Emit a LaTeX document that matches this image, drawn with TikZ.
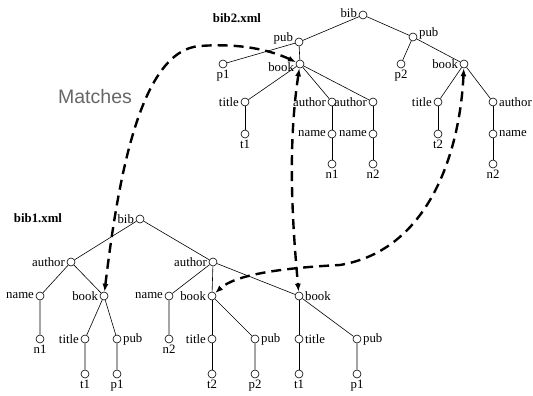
\documentclass[tikz,border=0pt]{standalone}
\usepackage{fontspec}
\setmainfont{Liberation Serif}
\newfontfamily\matchfont{Liberation Sans}
\usetikzlibrary{arrows.meta}

\tikzset{
  elem/.style={circle,draw,fill=white,minimum size=8pt,inner sep=0pt},
  every label/.style={inner sep=1.5pt,font=\fontsize{12.8}{14}\selectfont},
  label distance=0pt,
  match/.style={line width=2.4pt,dash pattern=on 10pt off 6pt,
    {Latex[length=8pt,width=6pt]}-{Latex[length=8pt,width=6pt]}}
}

\begin{document}
\begin{tikzpicture}[x=1pt,y=-1pt,line width=0.6pt]
\useasboundingbox (0,0) rectangle (533,396);

\node[font=\bfseries\fontsize{12.8}{14}\selectfont] (doc2) at (237,18) {bib2.xml};
\node[font=\bfseries\fontsize{12.8}{14}\selectfont] (doc1) at (38,218) {bib1.xml};

% bib2.xml
\node[elem,label={[yshift=2pt]left:bib}] (r2) at (363,15) {};
\node[elem,label={[yshift=4pt]left:pub}] (r2pub1) at (299,42) {};
\node[elem,label={[yshift=4pt]right:pub}] (r2pub2) at (413,37) {};
\node[elem,label=below:p1] (r2p1) at (223,64) {};
\node[elem,label={[yshift=-3pt]left:book}] (r2book1) at (300,64) {};
\node[elem,label=below:p2] (r2p2) at (401,64) {};
\node[elem,label=left:book] (r2book2) at (464,64) {};
\node[elem,label=left:title] (r2title1) at (245,102) {};
\node[elem,label=left:author] (r2auth1) at (332,102) {};
\node[elem,label=left:author] (r2auth2) at (373,102) {};
\node[elem,label=left:title] (r2title2) at (438,102) {};
\node[elem,label=right:author] (r2auth3) at (493,102) {};
\node[elem,label=below:t1] (r2t1) at (245,134) {};
\node[elem,label=left:name] (r2name1) at (332,134) {};
\node[elem,label=left:name] (r2name2) at (373,134) {};
\node[elem,label=below:t2] (r2t2) at (438,134) {};
\node[elem,label=right:name] (r2name3) at (493,134) {};
\node[elem,label=below:n1] (r2n1) at (332,164) {};
\node[elem,label=below:n2] (r2n2) at (373,164) {};
\node[elem,label=below:n2] (r2n3) at (493,164) {};

\draw (r2) -- (r2pub1);
\draw (r2) -- (r2pub2);
\draw (r2pub1) -- (r2p1);
\draw (r2pub1) -- (r2book1);
\draw (r2pub2) -- (r2p2);
\draw (r2pub2) -- (r2book2);
\draw (r2book1) -- (r2title1);
\draw (r2book1) -- (r2auth1);
\draw (r2book1) -- (r2auth2);
\draw (r2book2) -- (r2title2);
\draw (r2book2) -- (r2auth3);
\draw (r2title1) -- (r2t1);
\draw (r2auth1) -- (r2name1) -- (r2n1);
\draw (r2auth2) -- (r2name2) -- (r2n2);
\draw (r2title2) -- (r2t2);
\draw (r2auth3) -- (r2name3) -- (r2n3);

% bib1.xml
\node[elem,label=left:bib] (r1) at (140,219) {};
\node[elem,label=left:author] (r1auth1) at (71,262) {};
\node[elem,label=left:author] (r1auth2) at (213,262) {};
\node[elem,label=left:name] (r1name1) at (40,296) {};
\node[elem,label=left:book] (r1book1) at (104,296) {};
\node[elem,label=left:name] (r1name2) at (169,296) {};
\node[elem,label=left:book] (r1book2) at (212,296) {};
\node[elem,label=right:book] (r1book3) at (299,296) {};
\node[elem,label=below:n1] (r1n1) at (40,339) {};
\node[elem,label=left:title] (r1title1) at (85,339) {};
\node[elem,label=right:pub] (r1pub1) at (117,339) {};
\node[elem,label=below:n2] (r1n2) at (169,339) {};
\node[elem,label=left:title] (r1title2) at (212,339) {};
\node[elem,label=right:pub] (r1pub2) at (255,339) {};
\node[elem,label=right:title] (r1title3) at (299,339) {};
\node[elem,label=right:pub] (r1pub3) at (357,339) {};
\node[elem,label=below:t1] (r1t1) at (85,374) {};
\node[elem,label=below:p1] (r1p1) at (117,374) {};
\node[elem,label=below:t2] (r1t2) at (212,374) {};
\node[elem,label=below:p2] (r1p2) at (255,374) {};
\node[elem,label=below:t1] (r1t3) at (299,374) {};
\node[elem,label=below:p1] (r1p3) at (357,374) {};

\draw (r1) -- (r1auth1);
\draw (r1) -- (r1auth2);
\draw (r1auth1) -- (r1name1) -- (r1n1);
\draw (r1auth1) -- (r1book1);
\draw (r1book1) -- (r1title1) -- (r1t1);
\draw (r1book1) -- (r1pub1) -- (r1p1);
\draw (r1auth2) -- (r1name2) -- (r1n2);
\draw (r1auth2) -- (r1book2);
\draw (r1auth2) -- (r1book3);
\draw (r1book2) -- (r1title2) -- (r1t2);
\draw (r1book2) -- (r1pub2) -- (r1p2);
\draw (r1book3) -- (r1title3) -- (r1t3);
\draw (r1book3) -- (r1pub3) -- (r1p3);

% matches
\node[text=black!60,font=\matchfont\fontsize{19.5}{22}\selectfont] (lblmatch) at (95,97) {Matches};
\coordinate (m1) at (200,46);
\coordinate (m3) at (340,265);
\draw[match] (r1book1) .. controls (118,180) and (140,50) .. (m1)
  .. controls (240,43) and (270,50) .. (r2book1);
\draw[match] (r2book1) .. controls (287,150) and (293,230) .. (r1book3);
\draw[match] (r2book2) .. controls (460,150) and (430,250) .. (m3)
  .. controls (280,268) and (235,275) .. (r1book2);
\end{tikzpicture}
\end{document}
